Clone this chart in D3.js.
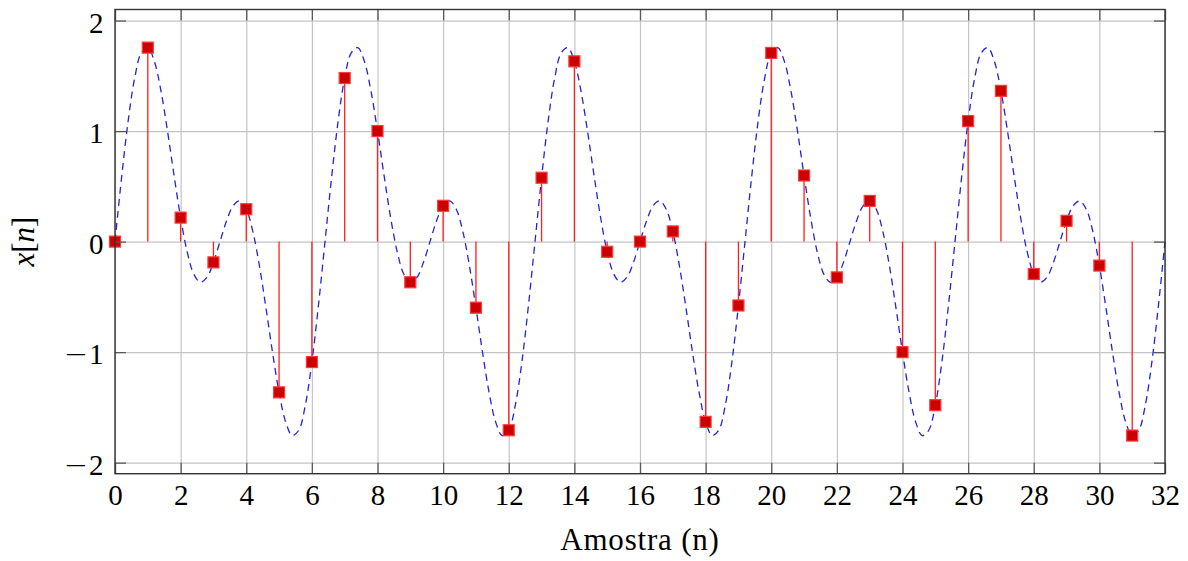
<!DOCTYPE html>
<html>
<head>
<meta charset="utf-8">
<script src="https://cdn.jsdelivr.net/npm/d3@7"></script>
<style>
  html, body { margin: 0; padding: 0; background: #fff; }
  svg { display: block; font-family: "Liberation Serif", "DejaVu Serif", serif; }
</style>
</head>
<body>
<svg id="chart" width="1188" height="561"></svg>
<script>
// Sample index n and the sampled values x[n]
const sampleN = d3.range(0, 32);
const sampleX = [
  0, 1.755, 0.217, -0.188, 0.293, -1.364, -1.090, 1.480,
  1.000, -0.368, 0.324, -0.598, -1.707, 0.578, 1.631, -0.092,
  0, 0.092, -1.631, -0.578, 1.707, 0.598, -0.324, 0.368,
  -1.000, -1.480, 1.090, 1.364, -0.293, 0.188, -0.217, -1.755
];

// Underlying continuous signal, read every 0.2 along the axis (0 … 32)
const curveStep = 0.2;
const curveX = [
  0, 0.578, 1.090, 1.480, 1.707, 1.755, 1.631, 1.364, 1.000, 0.598, 0.217, -0.092, -0.293, -0.368, -0.324, -0.188,
  0, 0.188, 0.324, 0.368, 0.293, 0.092, -0.217, -0.598, -1.000, -1.364, -1.631, -1.755, -1.707, -1.480, -1.090, -0.578,
  0, 0.578, 1.090, 1.480, 1.707, 1.755, 1.631, 1.364, 1.000, 0.598, 0.217, -0.092, -0.293, -0.368, -0.324, -0.188,
  0, 0.188, 0.324, 0.368, 0.293, 0.092, -0.217, -0.598, -1.000, -1.364, -1.631, -1.755, -1.707, -1.480, -1.090, -0.578,
  0, 0.578, 1.090, 1.480, 1.707, 1.755, 1.631, 1.364, 1.000, 0.598, 0.217, -0.092, -0.293, -0.368, -0.324, -0.188,
  0, 0.188, 0.324, 0.368, 0.293, 0.092, -0.217, -0.598, -1.000, -1.364, -1.631, -1.755, -1.707, -1.480, -1.090, -0.578,
  0, 0.578, 1.090, 1.480, 1.707, 1.755, 1.631, 1.364, 1.000, 0.598, 0.217, -0.092, -0.293, -0.368, -0.324, -0.188,
  0, 0.188, 0.324, 0.368, 0.293, 0.092, -0.217, -0.598, -1.000, -1.364, -1.631, -1.755, -1.707, -1.480, -1.090, -0.578,
  0, 0.578, 1.090, 1.480, 1.707, 1.755, 1.631, 1.364, 1.000, 0.598, 0.217, -0.092, -0.293, -0.368, -0.324, -0.188,
  0, 0.188, 0.324, 0.368, 0.293, 0.092, -0.217, -0.598, -1.000, -1.364, -1.631, -1.755, -1.707, -1.480, -1.090, -0.578,
  0
];

// Tick values
const xTicks = d3.range(0, 33, 2);
const yTicks = [-2, -1, 0, 1, 2];

const svg = d3.select("#chart");
const plotL = 115, plotR = 1165, plotT = 9.5, plotB = 473.7;

const x = d3.scaleLinear().domain([0, 32]).range([plotL, plotR]);
const y = d3.scaleLinear().domain([-2.1, 2.1]).range([plotB, plotT]);

const fontSize = 29;
const tickLen = 11;

// grid
const grid = svg.append("g");
grid.append("g")
  .attr("transform", `translate(0,${plotB})`)
  .call(d3.axisBottom(x).tickValues(xTicks).tickSize(-(plotB - plotT)).tickFormat(""))
  .call(g => g.select(".domain").remove())
  .call(g => g.selectAll("line").attr("stroke", "#c4c4c4").attr("stroke-width", 1.2));
grid.append("g")
  .attr("transform", `translate(${plotL},0)`)
  .call(d3.axisLeft(y).tickValues(yTicks).tickSize(-(plotR - plotL)).tickFormat(""))
  .call(g => g.select(".domain").remove())
  .call(g => g.selectAll("line").attr("stroke", "#c4c4c4").attr("stroke-width", 1.2));

// continuous signal (dashed)
const curvePts = curveX.map((v, i) => [i * curveStep, v]);
svg.append("path")
  .datum(curvePts)
  .attr("fill", "none")
  .attr("stroke", "#2323d8")
  .attr("stroke-width", 1.3)
  .attr("stroke-dasharray", "7,5")
  .attr("d", d3.line().x(d => x(d[0])).y(d => y(d[1])).curve(d3.curveCatmullRom.alpha(0.5)));

// stems
svg.append("g").selectAll("line")
  .data(sampleN)
  .join("line")
  .attr("x1", n => x(n)).attr("x2", n => x(n))
  .attr("y1", y(0)).attr("y2", n => y(sampleX[n]))
  .attr("stroke", "#ff2020")
  .attr("stroke-width", 1.3);

// square markers
const ms = 11;
svg.append("g").selectAll("rect")
  .data(sampleN)
  .join("rect")
  .attr("x", n => x(n) - ms / 2)
  .attr("y", n => y(sampleX[n]) - ms / 2)
  .attr("width", ms).attr("height", ms)
  .attr("fill", "#cc0000")
  .attr("stroke", "#ff3838")
  .attr("stroke-width", 1.2);

// axes: inward tick marks on all four sides
const tickStyle = g => {
  g.select(".domain").remove();
  g.selectAll("line").attr("stroke", "#5a5a5a").attr("stroke-width", 1.3);
};
const bAxis = svg.append("g")
  .attr("transform", `translate(0,${plotB})`)
  .call(d3.axisBottom(x).tickValues(xTicks).tickSize(-tickLen).tickFormat(d3.format("d")))
  .call(tickStyle);
bAxis.selectAll("text")
  .attr("y", 31.5).attr("dy", 0)
  .attr("fill", "#000")
  .style("font-size", fontSize + "px")
  .style("font-family", "'Liberation Serif', serif");

svg.append("g")
  .attr("transform", `translate(0,${plotT})`)
  .call(d3.axisTop(x).tickValues(xTicks).tickSize(-tickLen).tickFormat(""))
  .call(tickStyle);

// left labels, with a long math-style minus sign
const lAxis = svg.append("g")
  .attr("transform", `translate(${plotL},0)`)
  .call(d3.axisLeft(y).tickValues(yTicks).tickSize(-tickLen).tickPadding(11.5).tickFormat(d3.format("d")))
  .call(tickStyle);
lAxis.selectAll("text")
  .attr("dy", "0.4em")
  .attr("fill", "#000")
  .style("font-size", fontSize + "px")
  .style("font-family", "'Liberation Serif', serif")
  .each(function(d) {
    if (d < 0) {
      const t = d3.select(this).text("");
      t.append("tspan").style("font-family", "'DejaVu Sans', sans-serif").style("font-weight", 300).text("\u2212");
      t.append("tspan").attr("dx", 1).text(String(-d));
    }
  });

svg.append("g")
  .attr("transform", `translate(${plotR},0)`)
  .call(d3.axisRight(y).tickValues(yTicks).tickSize(-tickLen).tickFormat(""))
  .call(tickStyle);

// frame
svg.append("rect")
  .attr("x", plotL).attr("y", plotT)
  .attr("width", plotR - plotL).attr("height", plotB - plotT)
  .attr("fill", "none")
  .attr("stroke", "#333")
  .attr("stroke-width", 1.4);

// axis labels
svg.append("text")
  .attr("x", (plotL + plotR) / 2)
  .attr("y", 550)
  .attr("text-anchor", "middle")
  .style("font-size", "31px")
  .style("letter-spacing", "0.8px")
  .text("Amostra (n)");

const yl = svg.append("text")
  .attr("transform", `translate(34,${(plotT + plotB) / 2}) rotate(-90)`)
  .attr("text-anchor", "middle")
  .style("font-size", "31px");
yl.append("tspan").style("font-style", "italic").text("x");
yl.append("tspan").text("[");
yl.append("tspan").style("font-style", "italic").text("n");
yl.append("tspan").text("]");
</script>
</body>
</html>
